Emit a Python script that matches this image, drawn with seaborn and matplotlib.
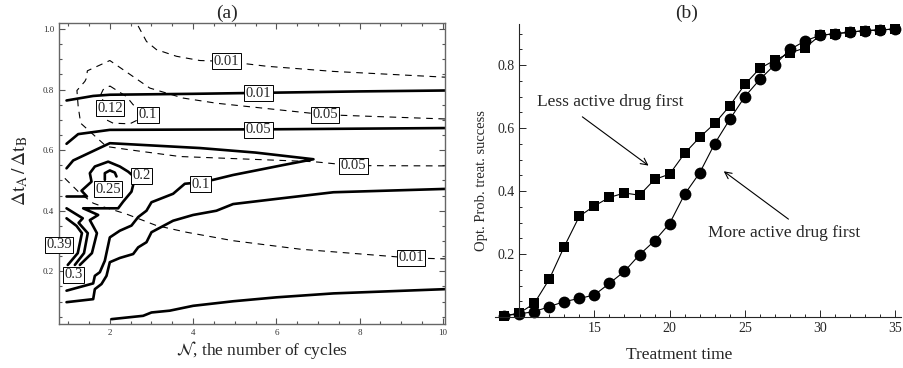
import numpy as np
import pandas as pd
import matplotlib
matplotlib.use("Agg")
import matplotlib.pyplot as plt
import seaborn as sns
from matplotlib.ticker import MultipleLocator, FixedLocator

# ---------------- panel (a): contour lines ----------------
# dashed contours
d001_top_x = [2.68, 2.88, 3.12, 3.60, 4.16, 4.80, 5.77, 7.37, 10.05]
d001_top_y = [1.01, 0.959, 0.932, 0.910, 0.896, 0.893, 0.877, 0.860, 0.841]

d005_x = [10.05, 7.17, 4.56, 3.76, 2.96, 2.0, 1.46, 1.44, 1.40, 1.21, 1.24, 1.30, 1.92, 2.48, 3.68, 6.89, 7.85, 10.05]
d005_y = [0.703, 0.717, 0.755, 0.772, 0.805, 0.896, 0.862, 0.838, 0.827, 0.797, 0.744, 0.689, 0.612, 0.601, 0.579, 0.562, 0.549, 0.548]

d01_loop_x = [2.0, 2.40, 2.56, 2.92, 2.48, 2.08, 1.92, 2.0, 1.76, 1.84, 2.0]
d01_loop_y = [0.812, 0.777, 0.750, 0.717, 0.687, 0.689, 0.700, 0.739, 0.777, 0.800, 0.812]

d001_low_x = [0.92, 1.28, 1.60, 1.84, 2.40, 3.12, 3.84, 4.96, 6.57, 9.23, 10.05]
d001_low_y = [0.507, 0.458, 0.425, 0.413, 0.389, 0.351, 0.329, 0.301, 0.273, 0.244, 0.241]

# solid contours
s001_x = [0.96, 1.60, 2.0, 4.0, 6.0, 8.0, 10.05]
s001_y = [0.764, 0.779, 0.783, 0.786, 0.790, 0.794, 0.797]

s005_x = [0.96, 1.24, 2.0, 4.0, 6.0, 8.0, 10.05]
s005_y = [0.621, 0.653, 0.667, 0.668, 0.669, 0.671, 0.673]

s01_x = [0.96, 1.12, 2.0, 4.16, 5.5, 6.89, 6.17, 4.96, 4.48, 4.18, 3.80, 3.52, 3.0, 2.88, 2.68, 2.52,
         2.24, 2.0, 1.88, 1.76, 1.64, 1.60, 0.96]
s01_y = [0.540, 0.566, 0.623, 0.607, 0.592, 0.570, 0.551, 0.518, 0.502, 0.494, 0.489, 0.456, 0.428, 0.400,
         0.379, 0.351, 0.334, 0.312, 0.235, 0.197, 0.185, 0.160, 0.136]

s005_low_x = [10.05, 7.37, 6.0, 4.96, 4.56, 4.0, 3.52, 3.0, 2.88, 2.68, 2.56, 2.24, 2.0, 1.92, 1.80, 1.64, 1.60, 0.96]
s005_low_y = [0.472, 0.461, 0.439, 0.422, 0.400, 0.386, 0.367, 0.329, 0.296, 0.279, 0.257, 0.244, 0.230, 0.185,
              0.158, 0.141, 0.108, 0.098]

s001_low_x = [2.04, 2.80, 3.0, 3.44, 4.0, 4.96, 6.0, 7.37, 10.05]
s001_low_y = [0.042, 0.053, 0.064, 0.070, 0.086, 0.101, 0.114, 0.127, 0.141]

s02_x = [0.96, 1.45, 1.32, 1.56, 1.52, 1.64, 1.96, 2.24, 2.44, 2.60, 2.56, 2.52, 2.32, 2.20, 1.36, 1.72,
         1.52, 1.69, 1.57, 1.28]
s02_y = [0.447, 0.447, 0.466, 0.496, 0.524, 0.546, 0.562, 0.546, 0.529, 0.510, 0.485, 0.463, 0.430, 0.408,
         0.408, 0.386, 0.369, 0.326, 0.260, 0.221]

s025_x = [1.88, 1.88, 2.0, 2.12, 2.16]
s025_y = [0.502, 0.524, 0.533, 0.526, 0.513]

s03_x = [0.96, 1.35, 1.25, 1.47, 1.38, 1.16]
s03_y = [0.408, 0.375, 0.360, 0.326, 0.260, 0.221]

s039_x = [0.96, 1.20, 1.33, 1.23, 0.99]
s039_y = [0.375, 0.350, 0.326, 0.260, 0.221]

label_text = ["0.01", "0.01", "0.05", "0.05", "0.05", "0.12", "0.1", "0.2", "0.25", "0.1", "0.39", "0.3", "0.01"]
label_x = [4.80, 5.57, 7.17, 5.57, 7.85, 2.0, 2.92, 2.76, 1.96, 4.18, 0.78, 1.12, 9.23]
label_y = [0.893, 0.788, 0.717, 0.668, 0.549, 0.739, 0.717, 0.516, 0.471, 0.488, 0.287, 0.189, 0.244]

# ---------------- panel (b): treatment success vs time ----------------
time = list(range(9, 36))
less_active_first = [0.004, 0.012, 0.043, 0.12, 0.224, 0.32, 0.353, 0.38, 0.394, 0.387, 0.437, 0.454, 0.52,
                     0.571, 0.615, 0.671, 0.739, 0.79, 0.816, 0.839, 0.855, 0.895, 0.90, 0.905, 0.91, 0.912, 0.915]
more_active_first = [0.004, 0.01, 0.017, 0.033, 0.049, 0.059, 0.07, 0.107, 0.145, 0.198, 0.242, 0.297, 0.39,
                     0.458, 0.551, 0.628, 0.70, 0.755, 0.802, 0.85, 0.877, 0.895, 0.90, 0.905, 0.91, 0.912, 0.915]

sns.set_style("ticks")
plt.rcParams["font.family"] = ["Liberation Serif", "DejaVu Serif"]
plt.rcParams["mathtext.fontset"] = "stix"

fig = plt.figure(figsize=(9.04, 3.68), dpi=100)

# ---- (a) ----
ax1 = fig.add_axes([0.0653, 0.1196, 0.427, 0.818])
dashed = [(d001_top_x, d001_top_y), (d005_x, d005_y), (d01_loop_x, d01_loop_y), (d001_low_x, d001_low_y)]
solid = [(s001_x, s001_y), (s005_x, s005_y), (s01_x, s01_y), (s005_low_x, s005_low_y),
         (s001_low_x, s001_low_y), (s02_x, s02_y), (s025_x, s025_y), (s03_x, s03_y), (s039_x, s039_y)]
for xs, ys in dashed:
    sns.lineplot(x=xs, y=ys, sort=False, estimator=None, ax=ax1, color="black", lw=0.8,
                 linestyle=(0, (6, 5)))
for xs, ys in solid:
    sns.lineplot(x=xs, y=ys, sort=False, estimator=None, ax=ax1, color="black", lw=1.9)
for t, x, y in zip(label_text, label_x, label_y):
    ax1.text(x, y, t, ha="center", va="center", fontsize=10.5, zorder=5, clip_on=False,
             bbox=dict(boxstyle="square,pad=0.1", fc="white", ec="black", lw=0.7))

ax1.set_xlim(0.78, 10.05)
ax1.set_ylim(0.026, 1.02)
ax1.xaxis.set_major_locator(FixedLocator([2, 4, 6, 8, 10]))
ax1.xaxis.set_minor_locator(MultipleLocator(0.5))
ax1.yaxis.set_major_locator(FixedLocator([0.2, 0.4, 0.6, 0.8, 1.0]))
ax1.yaxis.set_minor_locator(MultipleLocator(0.05))
ax1.tick_params(which="both", direction="in", top=True, right=True, colors="#555555",
                labelcolor="#333333", width=0.8)
ax1.tick_params(which="major", length=4, labelsize=6.5)
ax1.tick_params(which="minor", length=2.5)
for s in ax1.spines.values():
    s.set_color("#666666")
    s.set_linewidth(1.0)
ax1.set_xlabel(r"$\mathcal{N}$, the number of cycles", fontsize=12.5)
ax1.set_ylabel(r"$\Delta\mathrm{t}_{\mathrm{A}}\,/\,\Delta\mathrm{t}_{\mathrm{B}}$", fontsize=14)
ax1.xaxis.set_label_coords(0.526, -0.05)
ax1.yaxis.set_label_coords(-0.075, 0.51)

# ---- (b) ----
ax2 = fig.add_axes([0.551, 0.130, 0.446, 0.804])
sns.lineplot(x=time, y=less_active_first, ax=ax2, color="black", lw=0.8, marker="s",
             markersize=7, markeredgewidth=0, markerfacecolor="black")
sns.lineplot(x=time, y=more_active_first, ax=ax2, color="black", lw=0.8, marker="o",
             markersize=8.5, markeredgewidth=0, markerfacecolor="black")
ax2.set_xlim(8.6, 35.4)
ax2.set_ylim(-0.01, 0.93)
ax2.spines["top"].set_visible(False)
ax2.spines["right"].set_visible(False)
ax2.spines["left"].set_position(("data", 10))
ax2.spines["bottom"].set_position(("data", 0))
ax2.spines["left"].set_bounds(0, 0.93)
ax2.spines["bottom"].set_bounds(8.4, 35.4)
ax2.xaxis.set_major_locator(FixedLocator([15, 20, 25, 30, 35]))
ax2.xaxis.set_minor_locator(FixedLocator(range(10, 36)))
ax2.yaxis.set_major_locator(FixedLocator([0.2, 0.4, 0.6, 0.8]))
ax2.yaxis.set_minor_locator(FixedLocator(np.arange(0.05, 0.93, 0.05)))
ax2.tick_params(which="both", direction="in", width=0.7, labelsize=10)
ax2.tick_params(which="major", length=5)
ax2.tick_params(which="minor", length=2.5)
ax2.set_xlabel("Treatment time", fontsize=12.5)
ax2.set_ylabel("Opt. Prob. treat. success", fontsize=10.5)
ax2.xaxis.set_label_coords(0.449, -0.09)
ax2.yaxis.set_label_coords(-0.024, 0.473)

arrow = dict(arrowstyle="->", lw=0.8, color="black", mutation_scale=12, shrinkA=0, shrinkB=0)
ax2.text(11.16, 0.683, "Less active drug first", ha="left", va="center", fontsize=12.5)
ax2.annotate("", xy=(18.6, 0.481), xytext=(14.2, 0.636), arrowprops=arrow)
ax2.text(27.6, 0.267, "More active drug first", ha="center", va="center", fontsize=12.5)
ax2.annotate("", xy=(23.6, 0.463), xytext=(27.9, 0.311), arrowprops=arrow)

fig.text(227 / 904, 1 - 13 / 368, "(a)", ha="center", va="center", fontsize=14)
fig.text(687 / 904, 1 - 13 / 368, "(b)", ha="center", va="center", fontsize=14)

fig.savefig("out.png", dpi=100)
